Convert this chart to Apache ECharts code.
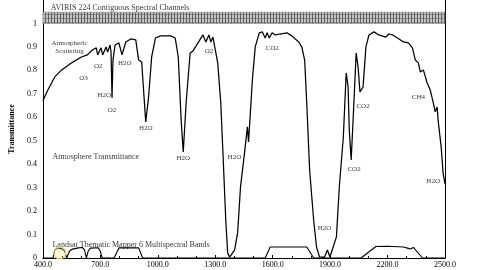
<!DOCTYPE html>
<html>
<head>
<meta charset="utf-8">
<script src="https://cdn.jsdelivr.net/npm/echarts@6/dist/echarts.min.js"></script>
<style>html,body{margin:0;padding:0;background:#fff}#c{width:480px;height:270px}</style>
</head>
<body>
<div id="c"></div>
<script>
// Atmospheric transmittance curve (wavelength nm, transmittance)
const wavelengths = [400,426,462,498,550,601,632,658,679,686,704,712,730,738,751,756,761,766,777,797,813,833,859,885,900,916,937,952,968,988,1014,1066,1091,1107,1122,1133,1148,1169,1184,1210,1236,1251,1267,1277,1288,1313,1329,1339,1355,1365,1375,1401,1417,1432,1453,1468,1474,1494,1509,1530,1546,1561,1571,1582,1597,1613,1638,1675,1700,1736,1752,1767,1778,1793,1814,1829,1845,1871,1886,1899,1907,1933,1948,1969,1984,1994,2000,2010,2020,2036,2046,2056,2072,2087,2103,2129,2154,2191,2206,2227,2252,2283,2309,2330,2345,2361,2371,2387,2407,2423,2438,2449,2459,2464,2480,2490,2500];
const transmittance = [0.670,0.716,0.772,0.802,0.832,0.857,0.866,0.887,0.896,0.866,0.896,0.866,0.900,0.878,0.908,0.874,0.682,0.844,0.908,0.917,0.866,0.921,0.934,0.930,0.844,0.836,0.580,0.687,0.857,0.938,0.947,0.947,0.938,0.857,0.588,0.452,0.661,0.874,0.883,0.917,0.951,0.921,0.951,0.921,0.942,0.832,0.661,0.473,0.162,0.021,0.004,0.034,0.107,0.303,0.448,0.559,0.495,0.759,0.900,0.960,0.964,0.938,0.960,0.938,0.960,0.951,0.955,0.960,0.947,0.921,0.900,0.844,0.661,0.375,0.162,0.047,0.004,0.004,0.034,0.004,0.004,0.090,0.303,0.516,0.789,0.729,0.546,0.418,0.588,0.874,0.815,0.708,0.729,0.900,0.951,0.964,0.951,0.942,0.955,0.951,0.938,0.921,0.917,0.896,0.844,0.832,0.793,0.802,0.746,0.716,0.665,0.623,0.644,0.588,0.473,0.362,0.316];

// Landsat TM band response outlines
const bandWavelengths = [400,453,462,477,498,514,524,539,555,586,606,617,627,637,648,689,699,710,772,797,900,921,1561,1587,1778,1814,2062,2139,2201,2283,2309,2320,2335,2382,2500];
const bandValues = [0,0,0.034,0.043,0.040,0.030,0,0.030,0.038,0.043,0.045,0.035,0,0.030,0.042,0.044,0.030,0,0,0.043,0.043,0,0,0.047,0.047,0,0,0.049,0.050,0.047,0.041,0.038,0.045,0,0];

// Tick labels
const xTicks = [400,700,1000,1300,1600,1900,2200,2500];
const yTicks = [0,0.1,0.2,0.3,0.4,0.5,0.6,0.7,0.8,0.9,1];

// Annotations
const labelText = ['Atmospheric','Scattering','O3','O2','H2O','H2O','O2','H2O','O2','H2O','H2O','CO2','H2O','CO2','CO2','CH4','H2O'];
const labelX = [539,539,612,689,828,720,761,937,1267,1133,1400,1597,1871,2025,2072,2361,2438];
const labelY = [0.917,0.883,0.768,0.819,0.832,0.695,0.631,0.554,0.883,0.426,0.431,0.896,0.128,0.380,0.648,0.687,0.328];
const titleText = ['AVIRIS 224 Contiguous Spectral Channels','Atmosphere Transmittance','Landsat Thematic Mapper 6 Multispectral Bands'];
const titleX = [441,450,450];
const titleY = [1.068,0.431,0.057];
const avirisBand = [1.0, 1.048];

const serif = '"Liberation Serif","DejaVu Serif",serif';

const pc = document.createElement('canvas');
pc.width = 3; pc.height = 4;
const g = pc.getContext('2d');
g.fillStyle = '#c4c4c4'; g.fillRect(0,0,3,4);
g.fillStyle = '#606060'; g.fillRect(0,0,1,4);
g.fillStyle = '#8c8c8c'; g.fillRect(1,2,2,1);

const chart = echarts.init(document.getElementById('c'), null, {renderer:'canvas'});
chart.setOption({
  animation:false,
  backgroundColor:'#fff',
  grid:{left:38,right:35,top:0,bottom:12,containLabel:false},
  xAxis:{type:'value',min:400,max:2500,interval:300,
    axisLine:{show:true,lineStyle:{color:'#000',width:1}},
    axisTick:{show:true,inside:true,length:3,lineStyle:{color:'#000'}},
    minorTick:{show:true,splitNumber:3,length:2,lineStyle:{color:'#000'}},
    splitLine:{show:false},
    axisLabel:{margin:3,fontSize:8,fontFamily:serif,color:'#000',
      formatter:v=>xTicks.includes(v)?v.toFixed(1):''}},
  yAxis:[{type:'value',min:0,max:1.1,interval:0.1,
    name:'Transmittance',nameLocation:'middle',nameGap:20,
    nameTextStyle:{fontSize:8,fontWeight:'bold',fontFamily:serif,color:'#000'},
    axisLine:{show:true,lineStyle:{color:'#000',width:1}},
    axisTick:{show:false},splitLine:{show:false},
    axisLabel:{margin:6,fontSize:8,fontFamily:serif,color:'#000',
      formatter:v=>{const r=Math.round(v*10)/10;return yTicks.includes(r)?String(r):'';}}},
   {type:'value',min:0,max:1.1,position:'right',
    axisLine:{show:true,lineStyle:{color:'#000',width:1}},
    axisTick:{show:false},axisLabel:{show:false},splitLine:{show:false}}],
  series:[
    {type:'line',data:wavelengths.map((w,i)=>[w,transmittance[i]]),showSymbol:false,
     lineStyle:{color:'#000',width:1.25},silent:true,
     markArea:{silent:true,itemStyle:{color:{image:pc,repeat:'repeat'},borderColor:'#777',borderWidth:0.5},
       data:[[{xAxis:400,yAxis:avirisBand[0]},{xAxis:2500,yAxis:avirisBand[1]}]]}},
    {type:'line',data:bandWavelengths.map((w,i)=>[w,bandValues[i]]),showSymbol:false,
     lineStyle:{color:'#000',width:1.1},silent:true,
     markPoint:{silent:true,symbol:'circle',symbolSize:12,
       itemStyle:{color:'rgba(240,225,120,0.25)',borderColor:'#e3d372',borderWidth:1.2},
       label:{show:false},data:[{coord:[488,0.022]}]}},
    {type:'scatter',symbolSize:0,silent:true,
     data:labelText.map((t,i)=>({name:t,value:[labelX[i],labelY[i]]})),
     label:{show:true,position:'inside',formatter:'{b}',fontSize:7,fontFamily:serif,color:'#000'}},
    {type:'scatter',symbolSize:0,silent:true,
     data:titleText.map((t,i)=>({name:t,value:[titleX[i],titleY[i]]})),
     label:{show:true,position:'right',distance:0,formatter:'{b}',fontSize:8,fontFamily:serif,color:'#000'}}
  ]
});
</script>
</body>
</html>
